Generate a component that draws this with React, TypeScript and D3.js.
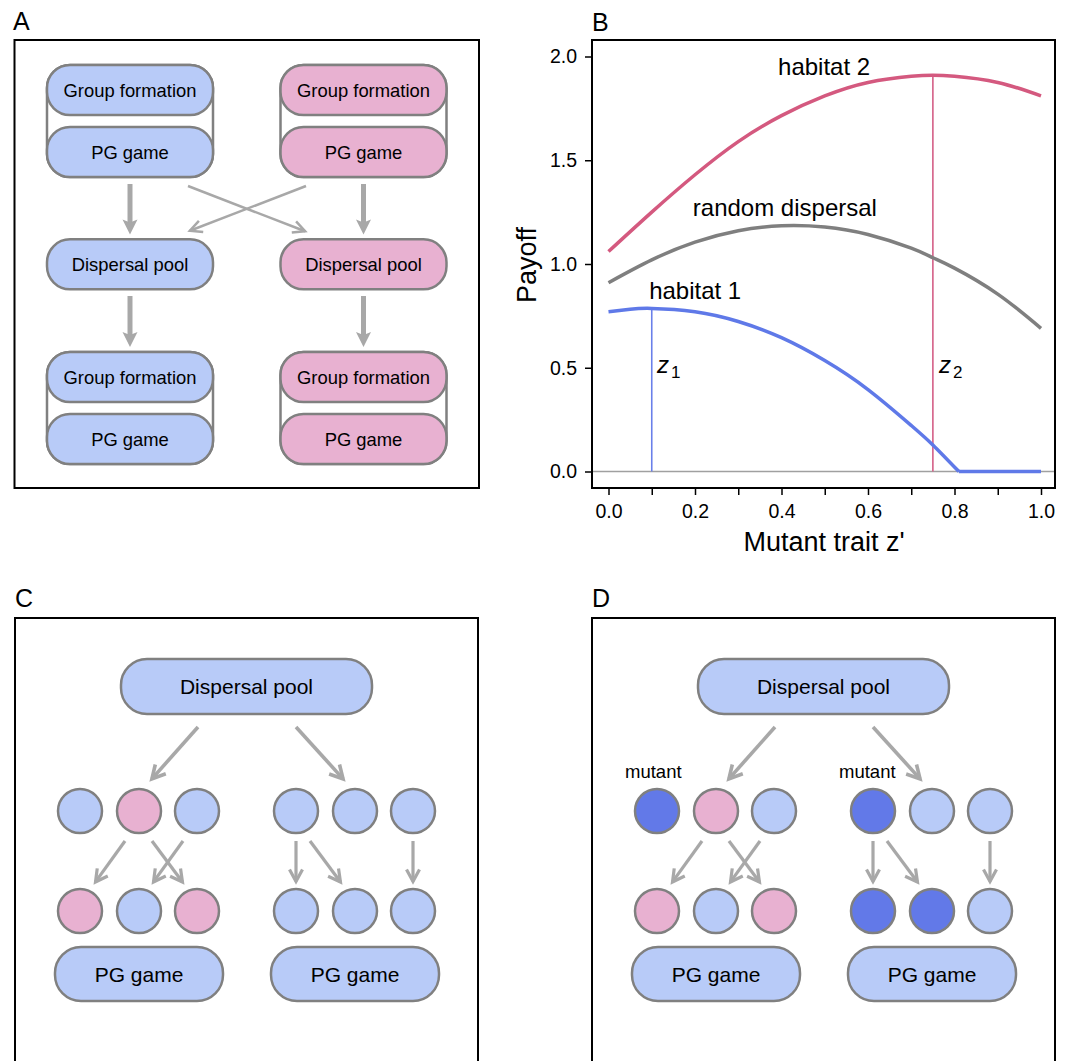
import { useEffect, useRef } from "react";
import * as d3 from "d3";

// panel B: payoff curves
const zValues = [0, 0.1, 0.2, 0.3, 0.4, 0.5, 0.6, 0.7, 0.75, 0.8, 0.9, 1.0];
const habitat2 = [1.06, 1.25, 1.43, 1.59, 1.715, 1.81, 1.875, 1.905, 1.91, 1.905, 1.875, 1.81];
const randomDispersal = [0.91, 1.02, 1.105, 1.16, 1.184, 1.178, 1.142, 1.076, 1.03, 0.98, 0.855, 0.69];
const habitat1Z = [0, 0.05, 0.1, 0.2, 0.3, 0.4, 0.5, 0.6, 0.7, 0.75, 0.81, 0.9, 1.0];
const habitat1 = [0.77, 0.782, 0.786, 0.77, 0.723, 0.645, 0.535, 0.395, 0.222, 0.128, 0, 0, 0];
const optimaZ = [0.1, 0.75];
const optimaPayoff = [0.786, 1.91];

const xTicks = [0, 0.1, 0.2, 0.3, 0.4, 0.5, 0.6, 0.7, 0.8, 0.9, 1.0];
const xTickLabels = ["0.0", "", "0.2", "", "0.4", "", "0.6", "", "0.8", "", "1.0"];
const yTicks = [0, 0.5, 1, 1.5, 2];
const yTickLabels = ["0.0", "0.5", "1.0", "1.5", "2.0"];

// panel A: two habitats
const habitatFills = ["blue", "pink"];
const stageLabels = ["Group formation", "PG game", "Dispersal pool"];

// panels C and D: individuals in each group
const circlesC = [
  [["blue", "pink", "blue"], ["blue", "blue", "blue"]],
  [["pink", "blue", "pink"], ["blue", "blue", "blue"]],
];
const circlesD = [
  [["mutant", "pink", "blue"], ["mutant", "blue", "blue"]],
  [["pink", "blue", "pink"], ["mutant", "mutant", "blue"]],
];

const FONT = "'Liberation Sans', Arial, Helvetica, sans-serif";
const COLORS: Record<string, string> = {
  blue: "#b8cbf8",
  pink: "#e8b1d1",
  mutant: "#6279e8",
};
const EDGE = "#808080";
const ARROW = "#a8a8a8";

function Pill({ x, y, w, h, r, fill, label, size }) {
  return (
    <g>
      <rect x={x} y={y} width={w} height={h} rx={r} ry={r} fill={fill} stroke={EDGE} strokeWidth={2.5} />
      <text x={x + w / 2} y={y + h / 2} dy="0.36em" textAnchor="middle" fontSize={size}>
        {label}
      </text>
    </g>
  );
}

function Arrow({ x1, y1, x2, y2, w, head, spread, filled = false }) {
  const len = Math.hypot(x2 - x1, y2 - y1);
  const ux = (x2 - x1) / len;
  const uy = (y2 - y1) / len;
  const nx = -uy;
  const ny = ux;
  const bx = x2 - ux * head;
  const by = y2 - uy * head;
  if (filled) {
    const pts = [
      [x2, y2],
      [bx + nx * spread, by + ny * spread],
      [bx + ux * 3, by + uy * 3],
      [bx - nx * spread, by - ny * spread],
    ];
    return (
      <g>
        <line x1={x1} y1={y1} x2={bx + ux * 4} y2={by + uy * 4} stroke={ARROW} strokeWidth={w} />
        <polygon points={pts.map((p) => p.join(",")).join(" ")} fill={ARROW} />
      </g>
    );
  }
  const tx = x2 - ux * w * 0.8;
  const ty = y2 - uy * w * 0.8;
  const wing = [
    [tx - ux * head + nx * spread, ty - uy * head + ny * spread],
    [tx, ty],
    [tx - ux * head - nx * spread, ty - uy * head - ny * spread],
  ];
  return (
    <g>
      <line x1={x1} y1={y1} x2={tx} y2={ty} stroke={ARROW} strokeWidth={w} />
      <polyline
        points={wing.map((p) => p.join(",")).join(" ")}
        fill="none"
        stroke={ARROW}
        strokeWidth={w}
        strokeLinejoin="miter"
      />
    </g>
  );
}

function PanelA() {
  const cols = [130, 363.5];
  const pw = 166;
  const ph = 50;
  const groupBlock = (cx, top, fill, key) => (
    <g key={key}>
      <rect x={cx - pw / 2} y={top} width={pw} height={112} rx={23} fill="white" stroke={EDGE} strokeWidth={2.5} />
      <Pill x={cx - pw / 2} y={top} w={pw} h={ph} r={23} fill={fill} label={stageLabels[0]} size={18.4} />
      <Pill x={cx - pw / 2} y={top + 62} w={pw} h={ph} r={23} fill={fill} label={stageLabels[1]} size={18.4} />
    </g>
  );
  return (
    <g>
      <text x={13} y={30} fontSize={25}>A</text>
      <rect x={14.5} y={40} width={464.5} height={448} fill="none" stroke="black" strokeWidth={2} />
      {cols.map((cx, i) => (
        <g key={i}>
          {groupBlock(cx, 65, COLORS[habitatFills[i]], "t")}
          <Arrow x1={cx} y1={184} x2={cx} y2={234.5} w={5} head={15} spread={7.5} filled />
          <Pill x={cx - pw / 2} y={239.3} w={pw} h={ph} r={23} fill={COLORS[habitatFills[i]]} label={stageLabels[2]} size={18.4} />
          <Arrow x1={cx} y1={296} x2={cx} y2={347} w={5} head={15} spread={7.5} filled />
          {groupBlock(cx, 352, COLORS[habitatFills[i]], "b")}
        </g>
      ))}
      <Arrow x1={188} y1={186} x2={307} y2={232} w={2.5} head={12} spread={6} />
      <Arrow x1={306} y1={186} x2={188} y2={231.5} w={2.5} head={12} spread={6} />
    </g>
  );
}

function PanelB() {
  const xAxisRef = useRef(null);
  const yAxisRef = useRef(null);
  const x = d3.scaleLinear().domain([0, 1]).range([608.5, 1041]);
  const y = d3.scaleLinear().domain([0, 2]).range([471.5, 56.5]);

  useEffect(() => {
    const xa = d3
      .axisBottom(x)
      .tickValues(xTicks)
      .tickSize(7)
      .tickPadding(9)
      .tickFormat((d, i) => xTickLabels[i]);
    const ya = d3
      .axisLeft(y)
      .tickValues(yTicks)
      .tickSize(7)
      .tickPadding(8)
      .tickFormat((d, i) => yTickLabels[i]);
    [
      [xAxisRef, xa],
      [yAxisRef, ya],
    ].forEach(([ref, axis]) => {
      const g = d3.select(ref.current);
      g.selectAll("*").remove();
      g.call(axis);
      g.select(".domain").remove();
      g.attr("font-family", FONT).attr("font-size", 19.5);
      g.selectAll(".tick line").attr("stroke", "black").attr("stroke-width", 1.5);
      g.selectAll(".tick text").attr("fill", "black");
    });
  }, []);

  const line = d3
    .line<number>()
    .x((d, i) => x(zValues[i]))
    .y((d) => y(d))
    .curve(d3.curveNatural);
  const zeroIdx = habitat1.indexOf(0);
  const h1 = d3
    .line<number>()
    .x((d, i) => x(habitat1Z[i]))
    .y((d) => y(d))
    .curve(d3.curveNatural);
  const h1Flat = d3
    .line<number>()
    .x((d, i) => x(habitat1Z[i + zeroIdx]))
    .y((d) => y(d));

  return (
    <g>
      <text x={592} y={31} fontSize={25}>B</text>
      <line x1={592} x2={1055} y1={y(0)} y2={y(0)} stroke="#a0a0a0" strokeWidth={1.5} />
      <line x1={x(optimaZ[0])} x2={x(optimaZ[0])} y1={y(0)} y2={y(optimaPayoff[0])} stroke="#6a80ea" strokeWidth={1.6} />
      <line x1={x(optimaZ[1])} x2={x(optimaZ[1])} y1={y(0)} y2={y(optimaPayoff[1])} stroke="#d45f86" strokeWidth={1.6} />
      <path d={line(habitat2)} fill="none" stroke="#d4597f" strokeWidth={3.5} />
      <path d={line(randomDispersal)} fill="none" stroke="#7f7f7f" strokeWidth={3.5} />
      <path d={h1(habitat1.slice(0, zeroIdx + 1))} fill="none" stroke="#5f79e8" strokeWidth={3.5} />
      <path d={h1Flat(habitat1.slice(zeroIdx))} fill="none" stroke="#5f79e8" strokeWidth={3.5} />
      <rect x={592} y={40} width={463} height={448} fill="none" stroke="black" strokeWidth={2} />
      <g ref={xAxisRef} transform="translate(0,488)" />
      <g ref={yAxisRef} transform="translate(592,0)" />
      <text x={x(0.392)} y={y(1.91)} fontSize={24}>habitat 2</text>
      <text x={x(0.195)} y={y(1.231)} fontSize={24}>random dispersal</text>
      <text x={x(0.094)} y={y(0.831)} fontSize={24}>habitat 1</text>
      <text x={x(0.112)} y={y(0.477)} fontSize={24}>
        <tspan fontStyle="italic">z</tspan>
        <tspan fontSize={17} dx={2} dy={5}>1</tspan>
      </text>
      <text x={x(0.764)} y={y(0.477)} fontSize={24}>
        <tspan fontStyle="italic">z</tspan>
        <tspan fontSize={17} dx={2} dy={5}>2</tspan>
      </text>
      <text transform={`translate(536,265) rotate(-90)`} textAnchor="middle" fontSize={27}>Payoff</text>
      <text x={824} y={551} textAnchor="middle" fontSize={27}>Mutant trait z'</text>
    </g>
  );
}

function PanelGroups({ left, label, circles, mutantLabels }) {
  const rowY = [811, 911];
  const groupX = [
    [65, 124, 182],
    [281, 340, 398],
  ];
  const ax = (v) => left + v;
  return (
    <g>
      <text x={left} y={607} fontSize={25}>{label}</text>
      <rect x={left} y={618} width={463} height={470} fill="none" stroke="black" strokeWidth={2} />
      <Pill x={ax(106)} y={659} w={251} h={55} r={26} fill={COLORS.blue} label="Dispersal pool" size={21} />
      <Arrow x1={ax(183)} y1={727} x2={ax(135)} y2={781} w={3.6} head={13} spread={7} />
      <Arrow x1={ax(281)} y1={727} x2={ax(330)} y2={781} w={3.6} head={13} spread={7} />
      {mutantLabels && (
        <g fontSize={18.5}>
          <text x={ax(33)} y={778}>mutant</text>
          <text x={ax(247)} y={778}>mutant</text>
        </g>
      )}
      <Arrow x1={ax(110)} y1={841} x2={ax(79)} y2={884} w={3.2} head={12} spread={6.5} />
      <Arrow x1={ax(137)} y1={841} x2={ax(169)} y2={884} w={3.2} head={12} spread={6.5} />
      <Arrow x1={ax(168)} y1={841} x2={ax(137)} y2={884} w={3.2} head={12} spread={6.5} />
      <Arrow x1={ax(281)} y1={841} x2={ax(281)} y2={884} w={3.2} head={12} spread={6.5} />
      <Arrow x1={ax(295)} y1={841} x2={ax(327)} y2={884} w={3.2} head={12} spread={6.5} />
      <Arrow x1={ax(398)} y1={841} x2={ax(398)} y2={884} w={3.2} head={12} spread={6.5} />
      {circles.map((row, r) =>
        row.map((grp, gi) =>
          grp.map((kind, k) => (
            <circle
              key={`${r}-${gi}-${k}`}
              cx={ax(groupX[gi][k])}
              cy={rowY[r]}
              r={22}
              fill={COLORS[kind]}
              stroke={EDGE}
              strokeWidth={2.5}
            />
          ))
        )
      )}
      <Pill x={ax(40)} y={947} w={168} h={54} r={26} fill={COLORS.blue} label="PG game" size={21} />
      <Pill x={ax(256)} y={947} w={168} h={54} r={26} fill={COLORS.blue} label="PG game" size={21} />
    </g>
  );
}

export default function App() {
  return (
    <svg
      width={1066}
      height={1061}
      style={{ position: "absolute", left: 0, top: 0, display: "block", background: "white" }}
      fontFamily={FONT}
    >
      <rect width={1066} height={1061} fill="white" />
      <PanelA />
      <PanelB />
      <PanelGroups left={15} label="C" circles={circlesC} mutantLabels={false} />
      <PanelGroups left={592} label="D" circles={circlesD} mutantLabels />
    </svg>
  );
}
